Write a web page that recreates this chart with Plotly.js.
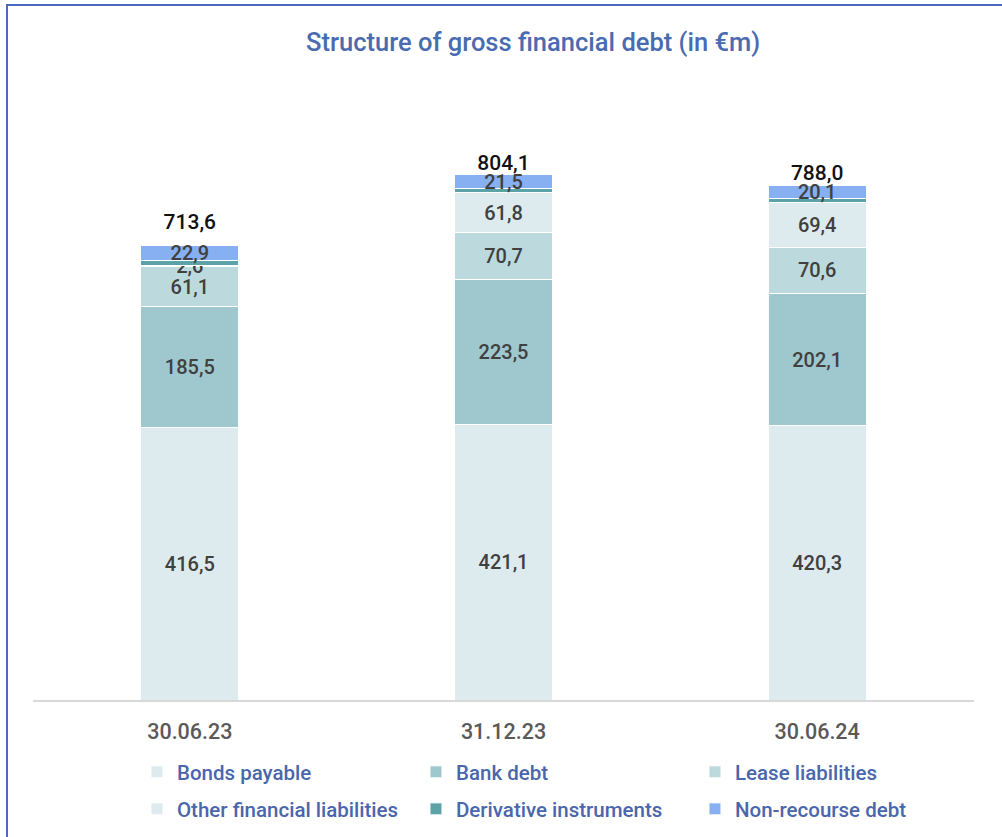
<!DOCTYPE html>
<html>
<head>
<meta charset="utf-8">
<script src="https://cdn.plot.ly/plotly-3.0.1.min.js"></script>
<style>
  html, body { margin: 0; padding: 0; background: #ffffff; }
  #wrap { position: relative; width: 1002px; height: 837px; }
  #chart { width: 1002px; height: 837px; }
  #bl { position: absolute; left: 6px; top: 4px; width: 2px; height: 833px; background: #4A6BC0; }
  #bt { position: absolute; left: 6px; top: 4px; width: 996px; height: 2px; background: #4A6BC0; }
</style>
</head>
<body>
<div id="wrap">
  <div id="chart"></div>
  <div id="bl"></div>
  <div id="bt"></div>
</div>
<script>
const categories = ["30.06.23", "31.12.23", "30.06.24"];
const bondsPayable = [416.5, 421.1, 420.3];
const bankDebt = [185.5, 223.5, 202.1];
const leaseLiabilities = [61.1, 70.7, 70.6];
const otherFinancial = [2.6, 61.8, 69.4];
const derivatives = [8.0, 5.5, 5.5];
const nonRecourse = [22.9, 21.5, 20.1];
const totals = [713.6, 804.1, 788.0];

const seriesNames = ["Bonds payable", "Bank debt", "Lease liabilities",
  "Other financial liabilities", "Derivative instruments", "Non-recourse debt"];
const seriesValues = [bondsPayable, bankDebt, leaseLiabilities, otherFinancial, derivatives, nonRecourse];
const seriesColors = ["#DDEBEF", "#9FC8CE", "#BCDADD", "#DDEBEF", "#5BA3A8", "#86B0F2"];
const showLabels = [true, true, true, true, false, true];
const legendIds = ["legend", "legend", "legend", "legend2", "legend2", "legend2"];

const font = "Roboto, 'Noto Sans', sans-serif";

const traces = seriesNames.map((name, i) => ({
  type: "bar",
  name: name,
  legend: legendIds[i],
  x: categories,
  y: seriesValues[i],
  marker: { color: seriesColors[i], line: { color: "#ffffff", width: 1 } },
  text: showLabels[i] ? seriesValues[i].map(v => v.toFixed(1).replace(".", ",")) : undefined,
  texttemplate: showLabels[i] ? "%{text}" : "",
  textposition: showLabels[i] ? "inside" : "none",
  insidetextanchor: "middle",
  constraintext: "none",
  textfont: { family: font, size: 20, color: "#404040", weight: 500 },
  cliponaxis: false,
  hoverinfo: "x+y+name"
}));

traces.push({
  type: "scatter",
  mode: "text",
  x: categories,
  y: totals,
  text: totals.map(v => v.toFixed(1).replace(".", ",")),
  textposition: "top center",
  textfont: { family: font, size: 21, color: "#111111", weight: 500 },
  showlegend: false,
  hoverinfo: "skip",
  cliponaxis: false
});

const legendCommon = {
  orientation: "h",
  xref: "container",
  x: 0.1367, xanchor: "left",
  yanchor: "middle",
  entrywidth: 234, entrywidthmode: "pixels",
  traceorder: "normal",
  font: { family: font, size: 20.5, color: "#4A66AC", weight: 500 },
  itemwidth: 30,
  bgcolor: "rgba(0,0,0,0)"
};

const layout = {
  width: 1002,
  height: 837,
  paper_bgcolor: "#ffffff",
  plot_bgcolor: "#ffffff",
  barmode: "stack",
  bargap: 0.687,
  margin: { l: 33, r: 28, t: 100, b: 137, autoexpand: false },
  title: {
    text: "Structure of gross financial debt (in €m)",
    font: { family: font, size: 25.5, color: "#4A6BB0", weight: 500 },
    x: 0.532, xanchor: "center", y: 0.950, yanchor: "middle"
  },
  xaxis: {
    type: "category",
    showline: true, linecolor: "#D9D9D9", linewidth: 2,
    ticks: "", showgrid: false, zeroline: false,
    tickfont: { family: font, size: 21.5, color: "#595959", weight: 500 },
    ticklabelstandoff: 11
  },
  yaxis: {
    range: [0, 918.7],
    visible: false, showgrid: false, zeroline: false, fixedrange: true
  },
  showlegend: true,
  legend: Object.assign({}, legendCommon, { y: -0.12 }),
  legend2: Object.assign({}, legendCommon, { y: -0.1817 })
};

Plotly.newPlot("chart", traces, layout, { displayModeBar: false, staticPlot: true });
</script>
</body>
</html>
